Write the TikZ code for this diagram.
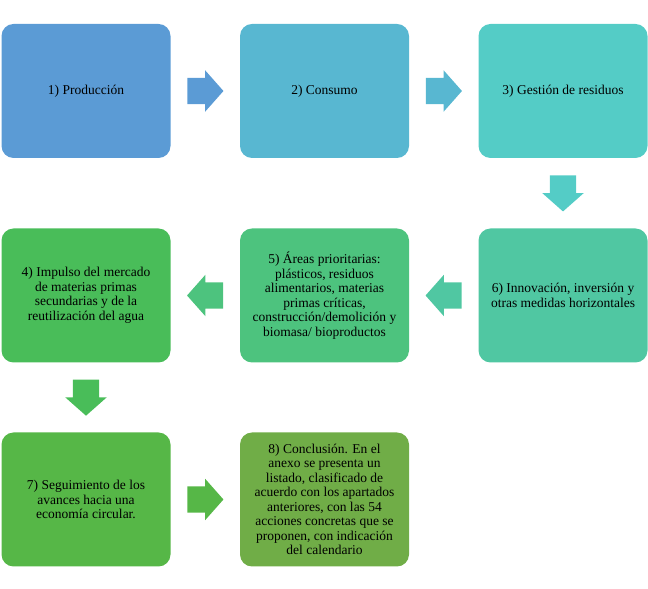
\documentclass[tikz,border=0pt]{standalone}
\usepackage{fontspec}
\setmainfont{Liberation Serif}
\usetikzlibrary{shapes.arrows,calc}

\definecolor{coul1}{RGB}{91,155,213}
\definecolor{coul2}{RGB}{88,183,209}
\definecolor{coul3}{RGB}{84,204,198}
\definecolor{coul6}{RGB}{80,199,162}
\definecolor{coul5}{RGB}{77,195,126}
\definecolor{coul4}{RGB}{73,189,89}
\definecolor{coul7}{RGB}{86,183,71}
\definecolor{coul8}{RGB}{112,173,71}

\tikzset{etape/.style = {rectangle, rounded corners = 12pt, fill = #1,
                         minimum width = 169pt, minimum height = 134pt,
                         inner sep = 2pt, align = center,
                         font = \fontsize{13.5}{14.5}\selectfont},
         etape/.default=coul1,
         fleche/.style = {single arrow, fill = #1, anchor = tail,
                          inner xsep = 0pt, inner ysep = 13pt,
                          minimum height = 36pt, minimum width = 41pt,
                          single arrow head extend = 7.5pt,
                          single arrow tip angle = 97},
         fleche/.default=coul1
        }

\begin{document}
\begin{tikzpicture}[x=1pt, y=1pt]
  \useasboundingbox (0, 0) rectangle (648, 589);
  % ligne 1
  \node[etape=coul1] (p1) at (86, 498) {1) Producción};
  \node[etape=coul2] (p2) at (324.5, 498) {2) Consumo};
  \node[etape=coul3] (p3) at (563, 498) {3) Gestión de residuos};
  % ligne 2
  \node[etape=coul6] (p6) at (563, 293.5) {6) Innovación, inversión y\\otras medidas horizontales};
  \node[etape=coul5] (p5) at (324.5, 293.5) {5) Áreas prioritarias:\\plásticos, residuos\\alimentarios, materias\\primas críticas,\\construcción/demolición y\\biomasa/ bioproductos};
  \node[etape=coul4] (p4) at (86, 293.5) {4) Impulso del mercado\\de materias primas\\secundarias y de la\\reutilización del agua};
  % ligne 3
  \node[etape=coul7] (p7) at (86, 89.5) {7) Seguimiento de los\\avances hacia una\\economía circular.};
  \node[etape=coul8] (p8) at (324.5, 89.5) {8) Conclusión. En el\\anexo se presenta un\\listado, clasificado de\\acuerdo con los apartados\\anteriores, con las 54\\acciones concretas que se\\proponen, con indicación\\del calendario};
  % fleches (queue a 18pt du milieu)
  \node[fleche=coul1] (f12) at ($(p1.east)!.5!(p2.west)!18pt!(p1.east)$) {};
  \node[fleche=coul2] (f23) at ($(p2.east)!.5!(p3.west)!18pt!(p2.east)$) {};
  \node[fleche=coul3, rotate=-90] (f36) at ($(p3.south)!.5!(p6.north)!18pt!(p3.south)$) {};
  \node[fleche=coul6, rotate=180] (f65) at ($(p6.west)!.5!(p5.east)!18pt!(p6.west)$) {};
  \node[fleche=coul5, rotate=180] (f54) at ($(p5.west)!.5!(p4.east)!18pt!(p5.west)$) {};
  \node[fleche=coul4, rotate=-90] (f47) at ($(p4.south)!.5!(p7.north)!18pt!(p4.south)$) {};
  \node[fleche=coul7] (f78) at ($(p7.east)!.5!(p8.west)!18pt!(p7.east)$) {};
\end{tikzpicture}
\end{document}
